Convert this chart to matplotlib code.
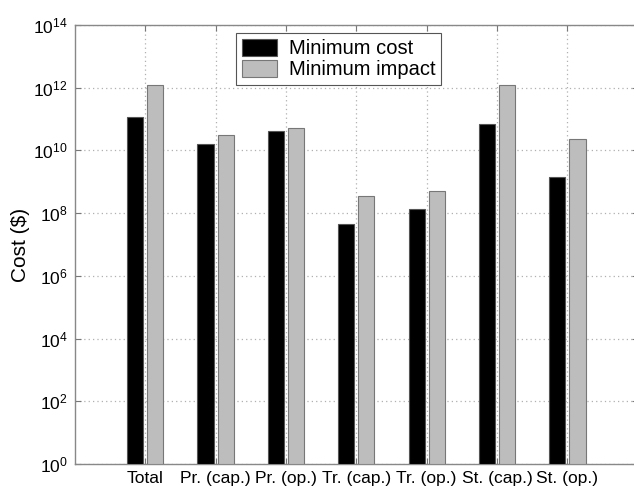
import numpy as np
import matplotlib
matplotlib.use("Agg")
import matplotlib.pyplot as plt

plt.rcParams['font.family'] = ['Liberation Sans', 'DejaVu Sans']
plt.rcParams['mathtext.fontset'] = 'custom'
plt.rcParams['mathtext.rm'] = 'Liberation Sans'

# Dados (expoentes de 10)
categories = ["Total", "Pr. (cap.)", "Pr. (op.)", "Tr. (cap.)", "Tr. (op.)", "St. (cap.)", "St. (op.)"]
min_cost_log = [11.07, 10.21, 10.62, 7.66, 8.14, 10.84, 9.14]
min_impact_log = [12.08, 10.48, 10.72, 8.56, 8.71, 12.07, 10.36]
series_names = ["Minimum cost", "Minimum impact"]

min_cost = 10.0 ** np.array(min_cost_log)
min_impact = 10.0 ** np.array(min_impact_log)

fig = plt.figure(figsize=(6.34, 4.87), dpi=100)
ax = fig.add_axes([0.118, 0.047, 0.888, 0.902])

x = np.arange(1, len(categories) + 1)
w = 0.228
off = 0.143
ax.bar(x - off, min_cost, width=w, bottom=1, color='black', edgecolor='#555555',
       linewidth=0.8, label=series_names[0], zorder=3)
ax.bar(x + off, min_impact, width=w, bottom=1, color='#bdbdbd', edgecolor='#777777',
       linewidth=0.8, label=series_names[1], zorder=3)

ax.set_yscale('log')
ax.set_ylim(1, 1e14)
ax.set_xlim(0, 8)
ax.set_yticks([10.0 ** k for k in range(0, 15, 2)])
ax.minorticks_off()
ax.set_xticks(x)
ax.set_xticklabels(categories, fontsize=12.5)
ax.tick_params(axis='y', labelsize=12.5)
ax.tick_params(direction='in', top=True, right=True, length=4, color='#777777', pad=5)

ax.grid(True, linestyle=(0, (1, 2.5)), color='#b0b0b0', linewidth=0.9, zorder=0)
for s in ax.spines.values():
    s.set_color('#888888')
    s.set_linewidth(1.0)

ax.set_ylabel("Cost ($)", fontsize=15, labelpad=2)

leg = ax.legend(loc='upper center', bbox_to_anchor=(0.469, 0.982), fontsize=14.5,
                fancybox=False, framealpha=1, edgecolor='#555555', borderaxespad=0,
                handlelength=1.7, handleheight=0.9, borderpad=0.3, labelspacing=0.1,
                handletextpad=0.6)
leg.get_frame().set_linewidth(0.8)

fig.savefig("out.png", dpi=100, facecolor='white')
